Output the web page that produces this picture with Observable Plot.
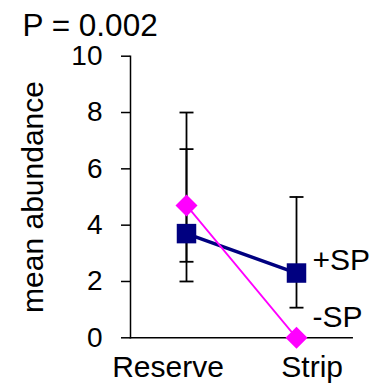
<!DOCTYPE html>
<html><head><meta charset="utf-8">
<script src="https://cdn.jsdelivr.net/npm/d3@7"></script>
<script src="https://cdn.jsdelivr.net/npm/@observablehq/plot@0.6"></script>
<style>
html,body{margin:0;padding:0;background:#fff;}
#chart svg{display:block;}
</style>
</head><body><div id="chart"></div>
<script>
// ---- data ----
const categories = ["Reserve", "Strip"];
const plusSP = [3.7, 2.3];           // navy squares
const plusLow = [2.7, 1.07];
const plusHigh = [6.7, 5.0];
const minusSP = [4.7, 0];            // magenta diamonds
const minusLow = [2.0, null];
const minusHigh = [8.0, null];
const yTicks = [0, 2, 4, 6, 8, 10];
const seriesNames = ["+SP", "-SP"];
const pText = "P = 0.002";
const yLabel = "mean abundance";

// ---- tables built from the arrays ----
const plusData = categories.map((c, i) => ({cat: c, v: plusSP[i], lo: plusLow[i], hi: plusHigh[i]}));
const minusData = categories.map((c, i) => ({cat: c, v: minusSP[i], lo: minusLow[i], hi: minusHigh[i]}));
const errData = [...plusData, ...minusData].filter(d => d.lo != null && d.hi != null);
const lastIdx = categories.length - 1;
const labelData = [
  {cat: categories[lastIdx], v: plusSP[lastIdx], t: seriesNames[0]},
  {cat: categories[lastIdx], v: minusSP[lastIdx], t: seriesNames[1]}
];

const navy = "#000080";
const magenta = "#ff00ff";
const font = "'Liberation Sans', Arial, Helvetica, sans-serif";

const diamond = {
  draw(ctx, size) {
    const r = Math.sqrt(size / 2);
    ctx.moveTo(0, -r); ctx.lineTo(r, 0); ctx.lineTo(0, r); ctx.lineTo(-r, 0); ctx.closePath();
  }
};
const hcap = {
  draw(ctx, size) {
    const r = Math.sqrt(size / Math.PI);
    ctx.moveTo(-r, 0); ctx.lineTo(r, 0);
  }
};

const chart = Plot.plot({
  width: 384,
  height: 387,
  marginTop: 55.7,
  marginBottom: 49.7,
  marginLeft: 130,
  marginRight: 32.3,
  style: {fontFamily: font, fontSize: "30px", color: "#000", background: "#fff"},
  x: {type: "point", domain: categories, padding: 0.5, label: null, axis: null},
  y: {domain: [0, 10], label: null},
  marks: [
    Plot.frame({anchor: "left", stroke: "#000", strokeWidth: 1.5}),
    Plot.frame({anchor: "bottom", stroke: "#000", strokeWidth: 1.5}),
    Plot.axisY({ticks: yTicks, tickSize: 9, tickPadding: 19, fontSize: 28, strokeWidth: 1.5, label: null}),
    // category labels
    Plot.text([categories[0]], {x: d => d, frameAnchor: "bottom", dx: -18.5, dy: 39.4, lineAnchor: "bottom", textAnchor: "middle", fontSize: 30, fill: "#000"}),
    Plot.text([categories[1]], {x: d => d, frameAnchor: "bottom", dx: 15.7, dy: 39.4, lineAnchor: "bottom", textAnchor: "middle", fontSize: 30, fill: "#000"}),
    Plot.text([yLabel], {frameAnchor: "left", rotate: -90, dx: -88, lineAnchor: "bottom", textAnchor: "middle", fontSize: 30, fill: "#000"}),
    Plot.text([pText], {frameAnchor: "top-left", dx: -108, dy: -20, lineAnchor: "bottom", textAnchor: "start", fontSize: 31.5, fill: "#000"}),
    // error bars
    Plot.ruleX(errData, {x: "cat", y1: "lo", y2: "hi", stroke: "#000", strokeWidth: 1.8}),
    Plot.dot(errData, {x: "cat", y: "lo", symbol: hcap, r: 7, stroke: "#000", fill: "none", strokeWidth: 1.8}),
    Plot.dot(errData, {x: "cat", y: "hi", symbol: hcap, r: 7, stroke: "#000", fill: "none", strokeWidth: 1.8}),
    // lines
    Plot.line(plusData, {x: "cat", y: "v", stroke: navy, strokeWidth: 3.5}),
    Plot.line(minusData, {x: "cat", y: "v", stroke: magenta, strokeWidth: 1.8}),
    // markers
    Plot.dot(plusData, {x: "cat", y: "v", symbol: "square", r: 11, fill: navy, stroke: "none"}),
    Plot.dot(minusData, {x: "cat", y: "v", symbol: diamond, r: 8.8, fill: magenta, stroke: "none"}),
    // series labels
    Plot.text(labelData.slice(0, 1), {x: "cat", y: "v", text: "t", dx: 16, dy: -3.5, lineAnchor: "bottom", textAnchor: "start", fontSize: 30, fill: "#000"}),
    Plot.text(labelData.slice(1), {x: "cat", y: "v", text: "t", dx: 16, dy: -11.3, lineAnchor: "bottom", textAnchor: "start", fontSize: 30, fill: "#000"})
  ]
});
document.getElementById("chart").appendChild(chart);
</script>
</body></html>
